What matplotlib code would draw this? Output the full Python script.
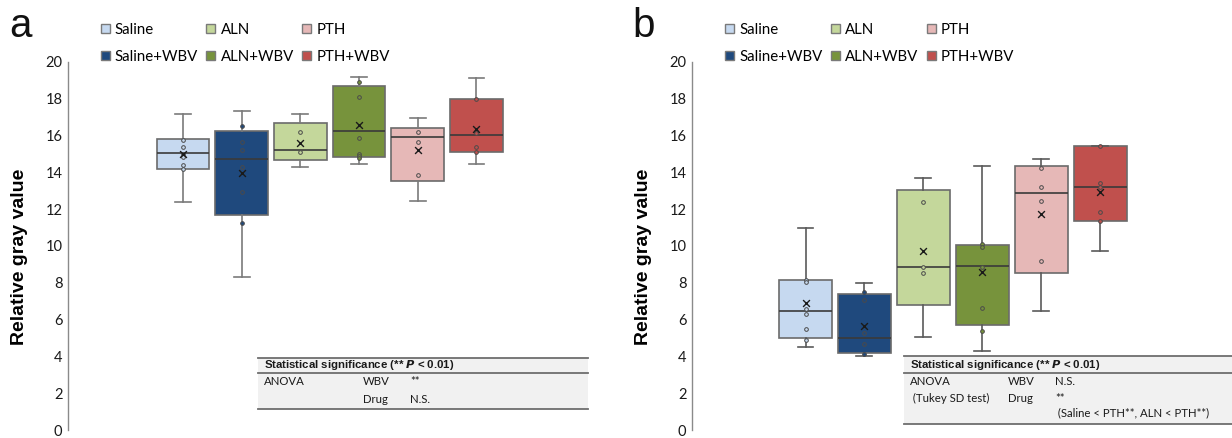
import matplotlib
matplotlib.use("Agg")
import matplotlib.pyplot as plt
from matplotlib.patches import Patch, Rectangle

# ---------------- data ----------------
groups = ["Saline", "Saline+WBV", "ALN", "ALN+WBV", "PTH", "PTH+WBV"]
colors = ["#c6d9f0", "#1f497d", "#c4d79b", "#77933c", "#e6b8b7", "#c0504d"]

# panel a
a_whislo = [12.37, 8.30, 14.28, 14.44, 12.44, 14.44]
a_q1 = [14.21, 11.67, 14.70, 14.84, 13.51, 15.11]
a_med = [15.07, 14.75, 15.20, 16.24, 15.95, 16.04]
a_q3 = [15.79, 16.27, 16.68, 18.69, 16.43, 18.01]
a_whishi = [17.19, 17.35, 17.19, 19.18, 16.94, 19.14]
a_mean = [14.98, 13.96, 15.59, 16.60, 15.20, 16.38]
a_points = [
    [15.77, 15.38, 14.98, 14.84, 14.39, 14.21],
    [16.51, 15.66, 15.20, 14.27, 12.94, 11.24],
    [16.20, 15.13],
    [18.92, 18.08, 15.86, 14.98, 14.87, 14.80],
    [16.20, 15.63, 13.85],
    [18.01, 16.24, 16.13, 15.38, 15.13],
]

# panel b
b_whislo = [4.50, 4.04, 5.05, 4.27, 6.48, 9.75]
b_q1 = [5.00, 4.20, 6.77, 5.68, 8.55, 11.36]
b_med = [6.45, 4.98, 8.84, 8.93, 12.86, 13.20]
b_q3 = [8.14, 7.41, 13.05, 10.04, 14.36, 15.43]
b_whishi = [10.98, 7.98, 13.70, 14.34, 14.75, 15.43]
b_mean = [6.89, 5.63, 9.71, 8.57, 11.73, 12.92]
b_points = [
    [8.14, 8.02, 6.57, 6.30, 5.50, 4.87],
    [7.50, 7.09, 5.29, 4.70, 4.13],
    [12.39, 8.84, 8.52],
    [10.09, 9.95, 8.86, 6.61, 5.36],
    [14.23, 13.21, 12.46, 9.20],
    [15.43, 13.40, 13.20, 11.84, 11.36],
]

yticks = [0, 2, 4, 6, 8, 10, 12, 14, 16, 18, 20]
ylabel = "Relative gray value"

a_table = {
    "header": "Statistical significance (** $\\boldsymbol{P}$ < 0.01)",
    "rows": [["ANOVA", "WBV", "**"], ["", "Drug", "N.S."]],
}
b_table = {
    "header": "Statistical significance (** $\\boldsymbol{P}$ < 0.01)",
    "rows": [["ANOVA", "WBV", "N.S."], [" (Tukey SD test)", "Drug", "**"],
             ["", "", " (Saline < PTH**, ALN < PTH**)"]],
}

# ---------------- figure ----------------
W, H = 1232, 438
fig = plt.figure(figsize=(W / 100, H / 100), dpi=100)

BODY = ["Lato", "DejaVu Sans"]
BOLD = ["Liberation Sans Narrow", "Liberation Sans", "DejaVu Sans"]


def px_rect(x0, y_top, x1, y_bot):
    return [x0 / W, 1 - y_bot / H, (x1 - x0) / W, (y_bot - y_top) / H]


def draw_panel(rect, xlim, whislo, q1, med, q3, whishi, mean, points,
               table, table_geom, letter_xy, leg_xy, letter, whisk_color):
    ax = fig.add_axes(rect)
    pos = list(range(1, len(groups) + 1))
    stats = []
    for i in range(len(groups)):
        stats.append(dict(med=med[i], q1=q1[i], q3=q3[i],
                          whislo=whislo[i], whishi=whishi[i],
                          mean=mean[i], fliers=[], label=groups[i]))
    bp = ax.bxp(stats, positions=pos, widths=0.9, patch_artist=True,
                showmeans=False, showfliers=False, capwidths=0.27,
                boxprops=dict(edgecolor="#6b6b6b", linewidth=1.2),
                medianprops=dict(color="#3a3a3a", linewidth=1.2),
                whiskerprops=dict(color=whisk_color, linewidth=1.2),
                capprops=dict(color=whisk_color, linewidth=1.2),
                zorder=2)
    for patch, c in zip(bp["boxes"], colors):
        patch.set_facecolor(c)
    for i, pts in enumerate(points):
        ax.scatter([pos[i]] * len(pts), pts, s=7, facecolor=colors[i],
                   edgecolor="#4a4a4a", linewidth=0.7, zorder=4)
    ax.scatter(pos, mean, marker="x", s=24, color="#1a1a1a",
               linewidth=1.0, zorder=5)

    ax.set_xlim(*xlim)
    ax.set_ylim(0, 20)
    ax.set_yticks(yticks)
    ax.set_xticks([])
    for s in ["top", "right", "bottom"]:
        ax.spines[s].set_visible(False)
    ax.spines["left"].set_color("#8a8a8a")
    ax.spines["left"].set_linewidth(1.0)
    ax.tick_params(axis="y", length=0, pad=4, labelsize=10.5)
    for t in ax.get_yticklabels():
        t.set_family(BODY)
        t.set_color("#1a1a1a")
    ax.set_ylabel(ylabel, fontsize=14, fontweight="bold",
                  family=["Liberation Sans", "DejaVu Sans"], va="center")
    ax.yaxis.set_label_coords(table_geom["labx"], 0.47)

    # statistics table (axes fraction coordinates)
    g = table_geom
    ax.add_patch(Rectangle((g["x0"], g["ybot"]), 1 - g["x0"], g["ytop"] - g["ybot"],
                           transform=ax.transAxes, facecolor="#f1f1f1",
                           edgecolor="none", zorder=1, clip_on=False))
    for yy in (g["ytop"], g["yline"], g["ybot"]):
        ax.plot([g["x0"], 1], [yy, yy], transform=ax.transAxes,
                color="#6e6e6e", linewidth=1.3, clip_on=False, zorder=3)
    ax.text(g["xt"][0], g["yh"], table["header"], transform=ax.transAxes,
            fontsize=8.2, fontweight="bold", family=BOLD, va="center",
            ha="left", color="#1a1a1a")
    for r, row in enumerate(table["rows"]):
        for c, txt in enumerate(row):
            if txt:
                ax.text(g["xt"][c], g["yr"][r], txt, transform=ax.transAxes,
                        fontsize=8.2, family=BODY, va="center", ha="left",
                        color="#1a1a1a")

    # panel letter
    fig.text(letter_xy[0] / W, 1 - letter_xy[1] / H, letter, fontsize=29,
             family=["Liberation Sans", "DejaVu Sans"], ha="left",
             va="baseline", color="#111111")

    # legend
    handles = [Patch(facecolor=c, edgecolor="#7a7a7a", linewidth=1.0)
               for c in colors]
    fig.legend(handles, groups,
               ncol=3, loc="upper left",
               bbox_to_anchor=(leg_xy[0] / W, 1 - leg_xy[1] / H),
               bbox_transform=fig.transFigure, frameon=False,
               prop=dict(family=BODY, size=10.8), handlelength=0.6,
               handleheight=0.6, handletextpad=0.35, columnspacing=0.55,
               labelspacing=0.85, borderpad=0, borderaxespad=0)
    return ax


geom_a = dict(x0=0.3648, ytop=0.1968, yline=0.1555, ybot=0.0558,
              yh=0.176, yr=[0.132, 0.0817], xt=[0.3769, 0.5673, 0.6577],
              labx=-48 / 520)
geom_b = dict(x0=0.3931, ytop=0.2008, yline=0.154, ybot=0.0153,
              yh=0.1766, yr=[0.1317, 0.0868, 0.0465],
              xt=[0.4037, 0.5852, 0.6722], labx=-48 / 540)

draw_panel(px_rect(68, 62, 588, 430), (-0.959, 7.90),
           a_whislo, a_q1, a_med, a_q3, a_whishi, a_mean, a_points,
           a_table, geom_a, (9, 37), (100.7, 23), "a", "#7a7a7a")
draw_panel(px_rect(692, 62, 1232, 430), (-0.927, 8.24),
           b_whislo, b_q1, b_med, b_q3, b_whishi, b_mean, b_points,
           b_table, geom_b, (632, 37), (725, 23), "b", "#5a5a5a")

fig.savefig("out.png", dpi=100)
